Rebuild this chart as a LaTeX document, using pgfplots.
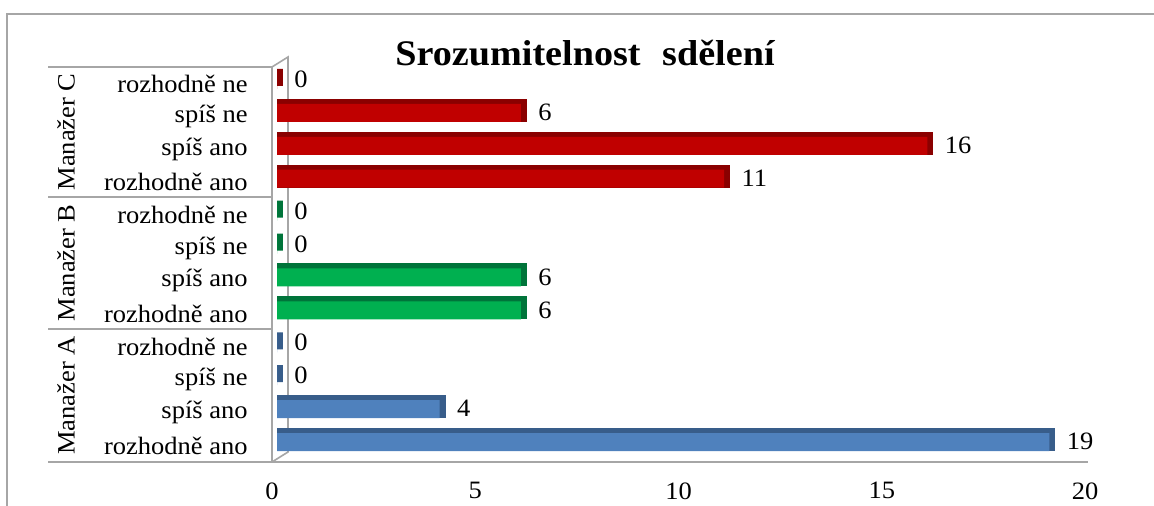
\documentclass[border=0pt]{standalone}
\usepackage{fontspec}
\setmainfont{Liberation Serif}[FakeStretch=1.06]
\usepackage{pgfplots}
\pgfplotsset{compat=1.18}
\definecolor{redF}{HTML}{C00000}
\definecolor{redD}{HTML}{8A0000}
\definecolor{greenF}{HTML}{00B050}
\definecolor{greenD}{HTML}{00743A}
\definecolor{blueF}{HTML}{4F81BD}
\definecolor{blueD}{HTML}{385D8A}
\definecolor{linecol}{HTML}{A6A6A6}
\newcommand{\lab}{\fontsize{12.5}{14}\selectfont}
\begin{document}
\begin{tikzpicture}[x=1pt,y=1pt]
\useasboundingbox (0,0) rectangle (577,253);
% chart border
\draw[linecol, line width=0.9pt] (3.5,0) -- (3.5,246) -- (577,246);
% category box
\draw[linecol, line width=0.8pt] (24,219.5) -- (136,219.5);
\draw[linecol, line width=0.8pt] (24,154.5) -- (136,154.5);
\draw[linecol, line width=0.8pt] (24,88.5) -- (136,88.5);
\draw[linecol, line width=0.8pt] (24,22) -- (544,22);
\draw[linecol, line width=0.8pt] (136,22) -- (136,219.5) -- (144,224.5) -- (144,27) -- (136,22);
% title
\node[anchor=base, font=\fontsize{18}{21}\selectfont\bfseries] at (292.5,220) {Srozumitelnost\hspace{0.6em}sdělení};
% group labels
\node[rotate=90, font=\lab] at (33,187) {Manažer C};
\node[rotate=90, font=\lab] at (33,121.5) {Manažer B};
\node[rotate=90, font=\lab] at (33,55.25) {Manažer A};
\begin{axis}[
  at={(138.5pt,22pt)}, anchor=south west,
  scale only axis, width=406.5pt, height=197.5pt,
  xmin=0, xmax=20, ymin=-0.5, ymax=11.5,
  enlargelimits=false, clip=false,
  axis line style={draw=none},
  major tick length=0pt,
  xtick={0,5,10,15,20},
  ytick={0,1,2,3,4,5,6,7,8,9,10,11},
  yticklabels={rozhodně ano, spíš ano, spíš ne, rozhodně ne,
               rozhodně ano, spíš ano, spíš ne, rozhodně ne,
               rozhodně ano, spíš ano, spíš ne, rozhodně ne},
  tick label style={font=\lab},
  xticklabel style={anchor=north, inner sep=0pt, yshift=-10pt, xshift=-2.5pt},
  yticklabel style={anchor=east, inner sep=0pt, xshift=-14.5pt},
  /pgf/number format/assume math mode=true,
  every node near coord/.append style={anchor=west, inner sep=0pt, xshift=8.5pt, yshift=2pt, font=\lab, text=black},
]
% dark (3D side) layers
\addplot[xbar, bar width=8.5pt, bar shift=3pt, xshift=1.5pt, fill=blueD, draw=blueD, line width=3pt]
  coordinates {(19,0) (4,1) (0,2) (0,3)};
\addplot[xbar, bar width=8.5pt, bar shift=3pt, xshift=1.5pt, fill=greenD, draw=greenD, line width=3pt]
  coordinates {(6,4) (6,5) (0,6) (0,7)};
\addplot[xbar, bar width=8.5pt, bar shift=3pt, xshift=1.5pt, fill=redD, draw=redD, line width=3pt]
  coordinates {(11,8) (16,9) (6,10) (0,11)};
% front faces
\addplot[xbar, bar width=9pt, bar shift=1.75pt, fill=blueF, draw=none, point meta=x, nodes near coords]
  coordinates {(19,0) (4,1) (0,2) (0,3)};
\addplot[xbar, bar width=9pt, bar shift=1.75pt, fill=greenF, draw=none, point meta=x, nodes near coords]
  coordinates {(6,4) (6,5) (0,6) (0,7)};
\addplot[xbar, bar width=9pt, bar shift=1.75pt, fill=redF, draw=none, point meta=x, nodes near coords]
  coordinates {(11,8) (16,9) (6,10) (0,11)};
\end{axis}
\end{tikzpicture}
\end{document}
